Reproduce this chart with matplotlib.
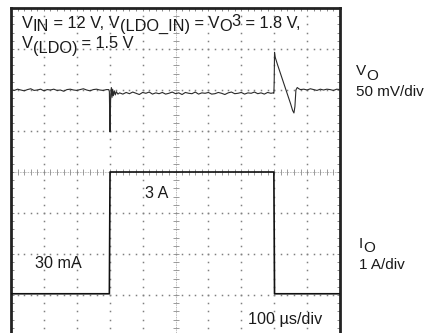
import matplotlib
matplotlib.use("Agg")
import matplotlib.pyplot as plt
from matplotlib.ticker import MultipleLocator
from matplotlib.font_manager import FontProperties

FONT = "Liberation Sans"
W, H = 430, 333

# scope settings
T_DIV = 100.0      # us/div
V_DIV = 50.0       # mV/div
V_POS = 2.0        # Vo trace offset, div
I_DIV = 1.0        # A/div
I_POS = -3.0       # Io trace offset, div

# output voltage deviation (mV) vs time (us)
t_vo = [0, 10, 20, 30, 40, 50, 60, 70, 80, 90,
        100, 110, 120, 130, 140, 150, 160, 170, 180, 190,
        200, 210, 220, 230, 240, 250, 260, 270, 280, 290,
        297, 299, 300, 301, 302, 303, 305, 307, 309, 311, 314, 317, 320, 325,
        330, 340, 350, 360, 370, 380, 390, 400, 410, 420,
        430, 440, 450, 460, 470, 480, 490, 500, 510, 520,
        530, 540, 550, 560, 570, 580, 590, 600, 610, 620,
        630, 640, 650, 660, 670, 680, 690, 700, 710, 720,
        730, 740, 750, 760, 770, 780, 790,
        797, 799, 800, 801, 803, 810, 820, 830, 840, 850, 856, 860, 863, 866, 870, 875, 880,
        890, 900, 910, 920, 930, 940, 950, 960, 970, 980, 990, 1000]
vo = [0.5, -0.5, 1.0, 0.0, -1.0, 0.5, 1.5, -0.5, 0.0, 1.0,
      -1.0, 0.5, 0.0, 1.0, -0.5, 0.0, -1.5, 0.5, 1.0, 0.0,
      -0.5, 0.5, 1.5, 0.0, -1.0, 0.5, 1.0, 0.0, -0.5, 0.5,
      0.5, -2.0, -30.0, -51.0, -30.0, -6.0, 3.0, -9.0, 1.0, -7.0, -1.0, -6.0, -2.0, -5.0,
      -3.5, -5.0, -3.0, -4.5, -2.5, -4.0, -5.5, -3.0, -4.0, -2.5,
      -5.0, -3.5, -4.5, -3.0, -5.0, -4.0, -2.5, -4.5, -3.5, -5.5,
      -3.0, -4.0, -4.5, -2.5, -5.0, -3.5, -4.0, -3.0, -5.0, -4.5,
      -3.0, -4.0, -5.5, -3.5, -2.5, -4.5, -4.0, -3.0, -5.0, -3.5,
      -4.0, -2.5, -4.5, -3.5, -5.0, -3.0, -4.0,
      -3.5, -4.0, 10.0, 46.0, 40.0, 31.0, 19.0, 7.0, -5.0, -17.0, -25.0, -28.0, -20.0, 0.0, 3.0, 1.5, 0.5,
      1.0, 0.0, 1.5, 0.5, -0.5, 1.0, 0.0, 1.0, 0.5, -0.5, 1.0, 0.5]

# load current step (A)
t_io = [0, 299, 301, 799, 801, 1000]
io = [0.03, 0.03, 3.0, 3.0, 0.03, 0.03]

fig = plt.figure(figsize=(W / 100, H / 100), dpi=100)
fig.patch.set_facecolor("white")
ax = fig.add_axes([11 / W, (H - 336) / H, 329 / W, 328 / H])
ax.set_xlim(0, 10)
ax.set_ylim(-4, 4)

# graticule: dotted divisions
for gx in [1, 2, 3, 4, 6, 7, 8, 9]:
    ys = [k * 0.2 - 4 for k in range(41)]
    ax.plot([gx] * len(ys), ys, ls="none", marker="s", ms=1.1, mfc="#808080", mec="none", zorder=1)
for gy in [-3, -2, -1, 1, 2, 3]:
    xs = [k * 0.2 for k in range(51)]
    ax.plot(xs, [gy] * len(xs), ls="none", marker="s", ms=1.1, mfc="#808080", mec="none", zorder=1)

# center axes with minor ticks
ax.axhline(0, color="#a0a0a0", lw=0.6, ls=(0, (1, 1)), zorder=1)
ax.axvline(5, color="#a0a0a0", lw=0.6, ls=(0, (1, 1)), zorder=1)
cx = [k * 0.2 for k in range(51)]
cy = [k * 0.2 - 4 for k in range(41)]
ax.plot(cx, [0] * len(cx), ls="none", marker="|", ms=4, mew=0.6, color="#8c8c8c", zorder=1)
ax.plot([5] * len(cy), cy, ls="none", marker="_", ms=4, mew=0.6, color="#8c8c8c", zorder=1)

# traces
ax.plot([t / T_DIV for t in t_vo], [V_POS + v / V_DIV for v in vo],
        color="#2a2a2a", lw=0.8, zorder=3)
ax.plot([t / T_DIV for t in t_io], [I_POS + i / I_DIV for i in io],
        color="#111111", lw=1.2, zorder=3)

# frame
for side in ["top", "left", "right"]:
    ax.spines[side].set_linewidth(2.0)
    ax.spines[side].set_color("#222222")
ax.spines["bottom"].set_visible(False)
ax.xaxis.set_major_locator(MultipleLocator(0.2))
ax.yaxis.set_major_locator(MultipleLocator(0.2))
ax.tick_params(direction="in", length=2.5, width=0.6, color="#777777",
               top=True, bottom=False, left=True, right=True,
               labelbottom=False, labelleft=False)

renderer = fig.canvas.get_renderer()


def text_width(s, size):
    prop = FontProperties(family=FONT, size=size)
    w1, _, _ = renderer.get_text_width_height_descent("|" + s + "|", prop, ismath=False)
    w0, _, _ = renderer.get_text_width_height_descent("||", prop, ismath=False)
    return w1 - w0


def label(x, y, parts, size=11.6):
    # parts: (text, baseline shift in px, + is down)
    for s, dy in parts:
        fig.text(x / W, 1 - (y + dy) / H, s, fontsize=size, family=FONT,
                 ha="left", va="baseline", color="#1a1a1a")
        x += text_width(s, size)


label(22, 28, [("V", 0), ("IN", 3), (" = 12 V, V", 0), ("(LDO_IN)", 3),
               (" = V", 0), ("O", 3), ("3", -2), (" = 1.8 V,", 0)], size=11.8)
label(22, 48, [("V", 0), ("(LDO)", 5), (" = 1.5 V", 0)], size=11.8)
label(145, 198, [("3 A", 0)])
label(35, 268, [("30 mA", 0)])
label(248, 324, [("100 \u00b5s/div", 0)])

label(356, 75, [("V", 0), ("O", 5)], size=11)
label(356, 96, [("50 mV/div", 0)], size=11)
label(359, 248, [("I", 0), ("O", 4)], size=11)
label(359, 269, [("1 A/div", 0)], size=11)

fig.savefig("out.png", dpi=100)
